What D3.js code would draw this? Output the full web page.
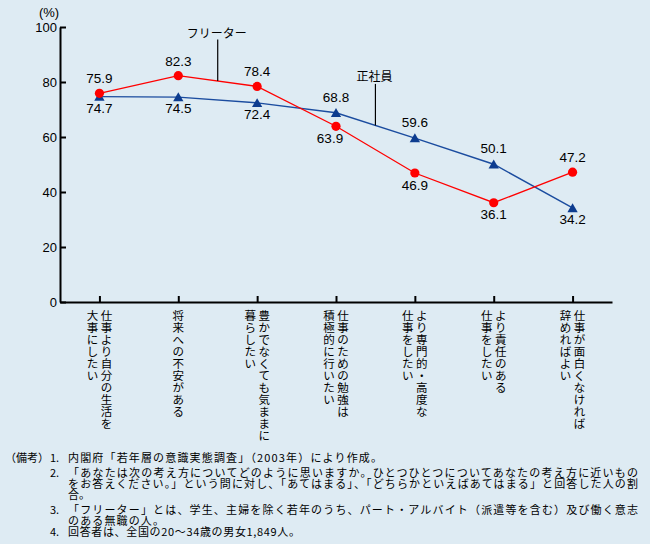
<!DOCTYPE html>
<html><head><meta charset="utf-8">
<script src="https://cdn.jsdelivr.net/npm/d3@7"></script>
<style>
html,body{margin:0;padding:0;background:#deebf3;}
svg{display:block;}
</style></head>
<body>
<svg id="chart" width="650" height="544"></svg>
<script>
// ---- data ----
const categories = [
  ["仕事より自分の生活を","大事にしたい"],
  ["将来への不安がある"],
  ["豊かでなくても気ままに","暮らしたい"],
  ["仕事のための勉強は","積極的に行いたい"],
  ["より専門的・高度な","仕事をしたい"],
  ["より責任のある","仕事をしたい"],
  ["仕事が面白くなければ","辞めればよい"]
];
const freeterValues = [75.9, 82.3, 78.4, 63.9, 46.9, 36.1, 47.2];
const regularValues = [74.7, 74.5, 72.4, 68.8, 59.6, 50.1, 34.2];
const freeterLabelPos = ["above","above","above","below","below","below","above"];
const regularLabelPos = ["below","below","below","above","above","above","below"];
const yTicks = [0, 20, 40, 60, 80, 100];
const seriesNames = ["フリーター", "正社員"];
const notes = [
  {num:"1.", text:"内閣府「若年層の意識実態調査」（2003年）により作成。", fit:true},
  {num:"2.", text:"「あなたは次の考え方についてどのように思いますか。ひとつひとつについてあなたの考え方に近いもの", fit:true},
  {num:"",   text:"をお答えください。」という問に対し、「あてはまる」、「どちらかといえばあてはまる」と回答した人の割", fit:true},
  {num:"",   text:"合。", fit:false},
  {num:"3.", text:"「フリーター」とは、学生、主婦を除く若年のうち、パート・アルバイト（派遣等を含む）及び働く意志", fit:true},
  {num:"",   text:"のある無職の人。", fit:true},
  {num:"4.", text:"回答者は、全国の20～34歳の男女1,849人。", fit:true}
];

(function(){
// ---- layout ----
const svg = d3.select("#chart");
const pL = 60, pR = 612, pT = 27, pB = 302;
const cjk = "'Noto Sans CJK JP', 'Noto Sans CJK SC', sans-serif";
const num = "'Liberation Sans', Arial, sans-serif";

const x = d3.scalePoint().domain(d3.range(categories.length)).range([pL, pR]).padding(0.5);
const y = d3.scaleLinear().domain([0, 100]).range([pB, pT]);

// axes
const yAxis = svg.append("g").attr("transform", `translate(${pL},0)`)
  .call(d3.axisLeft(y).tickValues(yTicks).tickSizeInner(-6).tickSizeOuter(0).tickPadding(3));
yAxis.selectAll("text").style("font-family", num).style("font-size", "13px").attr("fill", "#000");
yAxis.selectAll("path,line").attr("stroke", "#000").attr("stroke-width", 2);

const xAxis = svg.append("g").attr("transform", `translate(0,${pB})`)
  .call(d3.axisBottom(x).tickSizeInner(-6).tickSizeOuter(0).tickFormat(""));
xAxis.selectAll("path,line").attr("stroke", "#000").attr("stroke-width", 2);

svg.append("text").attr("x", 49).attr("y", 17).attr("text-anchor", "middle")
  .style("font-family", num).style("font-size", "13px").text("(%)");

// vertical category labels
categories.forEach((lines, i) => {
  const n = lines.length;
  lines.forEach((line, j) => {
    const cx = x(i) + (n === 1 ? 0 : (j === 0 ? 7 : -7));
    Array.from(line).forEach((ch, k) => {
      svg.append("text").attr("x", cx).attr("y", 315 + k * 12)
        .attr("text-anchor", "middle").attr("dominant-baseline", "central")
        .style("font-family", cjk).style("font-size", "11.5px").text(ch);
    });
  });
});

// lines
const lineGen = d3.line().x((d, i) => x(i)).y(d => y(d));
svg.append("path").datum(regularValues).attr("d", lineGen)
  .attr("fill", "none").attr("stroke", "#1b4c9f").attr("stroke-width", 1.4);
svg.append("path").datum(freeterValues).attr("d", lineGen)
  .attr("fill", "none").attr("stroke", "#ff0000").attr("stroke-width", 1.3);

// markers
svg.selectAll(".tri").data(regularValues).enter().append("path")
  .attr("d", d3.symbol().type(d3.symbolTriangle).size(46))
  .attr("transform", (d, i) => `translate(${x(i)},${y(d) + 1.2})`)
  .attr("fill", "#0d3c8f");
svg.selectAll(".dot").data(freeterValues).enter().append("circle")
  .attr("cx", (d, i) => x(i)).attr("cy", d => y(d)).attr("r", 4.6)
  .attr("fill", "#ff0000");

// value labels
const fmt = d3.format(".1f");
function labels(vals, pos, upOff, downOff, dxs) {
  svg.selectAll(null).data(vals).enter().append("text")
    .attr("x", (d, i) => x(i) + (dxs ? dxs[i] : 0))
    .attr("y", (d, i) => y(d) + (pos[i] === "above" ? -upOff : downOff))
    .attr("text-anchor", "middle")
    .style("font-family", num).style("font-size", "13.5px")
    .text(d => fmt(d));
}
labels(freeterValues, freeterLabelPos, 10, 16.5, [0, 0, 0, -6, 0, 0, 0]);
labels(regularValues, regularLabelPos, 11, 16, null);

// series callouts
function callout(vals, i, topVal, name, textY) {
  const cx = (x(i) + x(i + 1)) / 2;
  const cy = y((vals[i] + vals[i + 1]) / 2);
  svg.append("line").attr("x1", cx).attr("x2", cx).attr("y1", y(topVal)).attr("y2", cy)
    .attr("stroke", "#000").attr("stroke-width", 1.2);
  svg.append("text").attr("x", cx - 1).attr("y", textY).attr("text-anchor", "middle")
    .style("font-family", cjk).style("font-size", "12px").text(name);
}
callout(freeterValues, 1, 95.5, seriesNames[0], 38);
callout(regularValues, 3, 79.3, seriesNames[1], 81);

// notes
const noteBase = [462, 476.5, 487.5, 498.5, 513.5, 524.5, 536];
const ends = [382, 638, 638, null, 638, 164, 300];
svg.append("text").attr("x", 5).attr("y", noteBase[0])
  .style("font-family", cjk).style("font-size", "11px").text("（備考）");
notes.forEach((nt, i) => {
  if (nt.num) {
    svg.append("text").attr("x", 50).attr("y", noteBase[i])
      .style("font-family", cjk).style("font-size", "11px").text(nt.num);
  }
  const t = svg.append("text").attr("x", 68).attr("y", noteBase[i])
    .style("font-family", cjk).style("font-size", "11px").text(nt.text);
  if (nt.fit) {
    t.attr("textLength", ends[i] - 68).attr("lengthAdjust", "spacing");
  }
});
})();
</script>
</body></html>
